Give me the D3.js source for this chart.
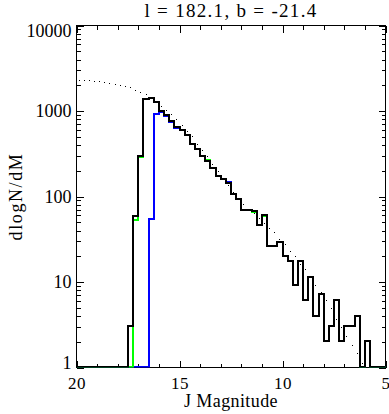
<!DOCTYPE html>
<html lang="en">
<head>
  <meta charset="UTF-8">
  <title>l = 182.1, b = -21.4</title>
  <style>
    body { margin: 0; background: #fff; }
    text { font-family: "Liberation Serif", "DejaVu Serif", serif; fill: #000; }
  </style>
</head>
<body>

  <div id="app"></div>

  <script src="https://cdn.jsdelivr.net/npm/d3@7/dist/d3.min.js"></script>
  <script>
    // histogram bins are 0.25 mag wide, the first one runs from 17.5 to 17.25
    const binStart = 17.5
    const binWidth = 0.25

    const totalCounts = [
      3, 59, 290, 1364, 1400, 1268, 976, 893, 760, 634,
      585, 521, 409, 357, 290, 259, 212, 173, 158, 142,
      105, 93, 69, 68, 67, 46, 60, 26, 26, 29,
      20, 17.5, 9.2, 17.5, 6, 11.3, 4, 7.2, 2, 3,
      6, 2, 3, 3, 4, 0, 2, 0
    ]
    const greenCounts = [
      0, 53, 283, 1364, 1400, 1268, 976, 893, 760, 634,
      585, 521, 409, 357, 297, 264, 212, 173, 158, 142,
      105, 93, 69, 68, 65, 46, 59, 26, 26, 29,
      20, 17.5, 9.2, 17.5, 6, 11.3, 4, 7.2, 2, 3,
      6, 2, 3, 3, 4, 0, 2, 0
    ]
    const blueCounts = [
      0, 0, 0, 0, 54, 918, 950, 869, 740, 621,
      585, 521, 409, 357, 290, 259, 212, 173, 158, 144,
      105, 93, 69, 68, 67, 46, 60, 26, 26, 29,
      20, 17.5, 9.2, 17.5, 6, 11.3, 4, 7.2, 2, 3,
      6, 2, 3, 3, 4, 0, 2, 0
    ]

    // model prediction, one point per bin centre starting at 19.875
    const modelStart = 19.875
    const modelCounts = [
      2250, 2290, 2250, 2230, 2190, 2150, 2100, 2040, 2000, 1950,
      1860, 1730, 1635, 1545, 1430, 1280, 1140, 1020, 918, 796,
      676, 580, 498, 405, 341, 296, 237, 198, 164, 136,
      111, 95, 81, 70.5, 63, 55, 48, 42, 38, 31.4,
      27.7, 22.7, 19.9, 16, 14, 11.3, 9.2, 7.5, 6.1, 4.9,
      3.6, 2.9, 2.3, 1.8, 1.46, 1.11, 0.85
    ]

    const xMajor = [20, 15, 10, 5]
    const yMajor = [1, 10, 100, 1000, 10000]

    const width = 389, height = 414
    const pLeft = 76.5, pRight = 385.5, pTop = 25.5, pBottom = 367.5

    const svg = d3.select('#app').append('svg')
      .attr('width', width)
      .attr('height', height)

    const x = d3.scaleLinear().domain([20, 5]).range([pLeft, pRight])
    const y = d3.scaleLog().domain([1, 10000]).range([pBottom, pTop])

    svg.append('clipPath').attr('id', 'plot')
      .append('rect')
      .attr('x', pLeft).attr('y', pTop)
      .attr('width', pRight - pLeft).attr('height', pBottom - pTop)

    // frame
    svg.append('rect')
      .attr('x', pLeft).attr('y', pTop)
      .attr('width', pRight - pLeft).attr('height', pBottom - pTop)
      .attr('fill', 'none')
      .attr('stroke', '#000')
      .attr('shape-rendering', 'crispEdges')

    const xMinor = d3.range(19, 5, -1).filter(d => !xMajor.includes(d))
    const yMinor = []
    yMajor.slice(0, -1).forEach(d => {
      for (let k = 2; k < 10; k++) yMinor.push(d * k)
    })

    function addAxis(axis, tx, ty, labels) {
      const g = svg.append('g')
        .attr('transform', `translate(${tx},${ty})`)
        .call(axis)
      g.select('.domain').remove()
      g.selectAll('line').attr('shape-rendering', 'crispEdges')
      if (!labels) g.selectAll('text').remove()
      return g
    }

    // bottom
    const gx = addAxis(d3.axisBottom(x).tickValues(xMajor).tickSize(-7).tickPadding(9).tickFormat(d3.format('d')), 0, pBottom, true)
    addAxis(d3.axisBottom(x).tickValues(xMinor).tickSize(-4).tickFormat(''), 0, pBottom, false)
    // top
    addAxis(d3.axisTop(x).tickValues(xMajor).tickSize(-7), 0, pTop, false)
    addAxis(d3.axisTop(x).tickValues(xMinor).tickSize(-4), 0, pTop, false)
    // left
    const gy = addAxis(d3.axisLeft(y).tickValues(yMajor).tickSize(-7).tickPadding(5).tickFormat(d3.format('d')), pLeft, 0, true)
    addAxis(d3.axisLeft(y).tickValues(yMinor).tickSize(-4).tickFormat(''), pLeft, 0, false)
    // right
    addAxis(d3.axisRight(y).tickValues(yMajor).tickSize(-7), pRight, 0, false)
    addAxis(d3.axisRight(y).tickValues(yMinor).tickSize(-4), pRight, 0, false)

    gx.selectAll('text').attr('font-size', 17).attr('font-family', '"Liberation Serif", serif')
      .attr('letter-spacing', 0.5)
    gy.selectAll('text').attr('font-size', 18).attr('font-family', '"Liberation Serif", serif')
      .attr('dy', d => d === 10000 ? '0.62em' : d === 1 ? '0.05em' : '0.32em')

    // histograms, snapped to the pixel grid so overlaid colours line up
    function stepPoints(values) {
      const pts = [[20, 1], [binStart, 1]]
      values.forEach((v, i) => {
        const e0 = binStart - i * binWidth
        pts.push([e0, Math.max(v, 1)], [e0 - binWidth, Math.max(v, 1)])
      })
      pts.push([binStart - values.length * binWidth, 1], [5, 1])
      return pts
    }
    const step = d3.line()
      .x(d => Math.round(x(d[0])))
      .y(d => Math.floor(y(d[1])))

    const hist = svg.append('g').attr('clip-path', 'url(#plot)')
    const series = [
      { values: blueCounts, color: '#0000ff' },
      { values: greenCounts, color: '#00ff00' },
      { values: totalCounts, color: '#000000' },
    ]
    hist.selectAll('path').data(series).enter()
      .append('path')
      .attr('d', d => step(stepPoints(d.values)))
      .attr('fill', 'none')
      .attr('stroke', d => d.color)
      .attr('stroke-width', 2)
      .attr('shape-rendering', 'crispEdges')

    // model dots
    hist.selectAll('rect.dot')
      .data(modelCounts.map((v, i) => [modelStart - i * binWidth, v]).filter(d => d[1] >= 1))
      .enter()
      .append('rect')
      .attr('class', 'dot')
      .attr('x', d => Math.floor(x(d[0])))
      .attr('y', d => Math.floor(y(d[1])))
      .attr('width', 1)
      .attr('height', 1)
      .attr('fill', '#000')
      .attr('shape-rendering', 'crispEdges')

    // labels
    svg.append('text')
      .attr('x', (pLeft + pRight) / 2)
      .attr('y', 17)
      .attr('text-anchor', 'middle')
      .attr('font-size', 19)
      .attr('letter-spacing', 1.3)
      .text('l = 182.1, b = -21.4')

    svg.append('text')
      .attr('x', (pLeft + pRight) / 2)
      .attr('y', 407)
      .attr('text-anchor', 'middle')
      .attr('font-size', 18)
      .attr('letter-spacing', 0.4)
      .text('J Magnitude')

    svg.append('text')
      .attr('transform', `translate(22,${(pTop + pBottom) / 2}) rotate(-90)`)
      .attr('text-anchor', 'middle')
      .attr('font-size', 18)
      .attr('letter-spacing', 1.6)
      .text('dlogN/dM')
  </script>
</body>
</html>
